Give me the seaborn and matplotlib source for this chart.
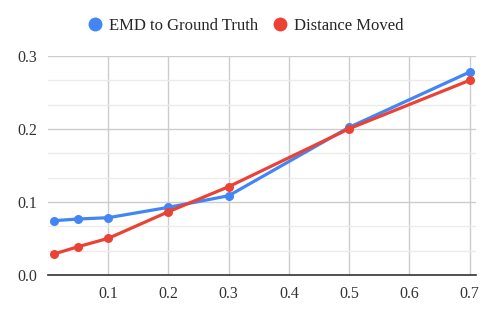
import pandas as pd
import matplotlib
matplotlib.use('Agg')

import matplotlib.pyplot as plt
from matplotlib.ticker import MultipleLocator
import seaborn as sns

# Data
x_vals = [0.01, 0.05, 0.1, 0.2, 0.3, 0.5, 0.7]
emd_to_truth = [0.0744, 0.0767, 0.0785, 0.0927, 0.1086, 0.2023, 0.278]
distance_moved = [0.0288, 0.0388, 0.0502, 0.0867, 0.121, 0.2004, 0.2667]
series_names = ["EMD to Ground Truth", "Distance Moved"]

df = pd.DataFrame({
    "x": x_vals * 2,
    "value": emd_to_truth + distance_moved,
    "series": [series_names[0]] * len(x_vals) + [series_names[1]] * len(x_vals),
})

sns.set_style("white")
plt.rcParams['font.family'] = ['Liberation Serif', 'DejaVu Serif']

fig = plt.figure(figsize=(4.92, 3.18), dpi=100)
ax = fig.add_axes([48 / 492, 43 / 318, 428 / 492, 219 / 318])

palette = {series_names[0]: "#4285F4", series_names[1]: "#EA4335"}
sns.lineplot(data=df, x="x", y="value", hue="series", palette=palette,
             marker="o", markersize=6.5, markeredgewidth=0, linewidth=2.3,
             ax=ax, legend=False, zorder=3)

ax.set_xlim(0.0, 0.7106)
ax.set_ylim(0, 0.3)
ax.set_xticks([0.1, 0.2, 0.3, 0.4, 0.5, 0.6, 0.7])
ax.set_yticks([0.0, 0.1, 0.2, 0.3])
ax.yaxis.set_minor_locator(MultipleLocator(0.1 / 3))
ax.set_xticklabels(["0.1", "0.2", "0.3", "0.4", "0.5", "0.6", "0.7"])
ax.set_yticklabels(["0.0", "0.1", "0.2", "0.3"])

ax.grid(which="major", color="#cccccc", linewidth=1)
ax.grid(which="minor", axis="y", color="#ebebeb", linewidth=1)
ax.set_axisbelow(True)
for side in ["top", "right", "left"]:
    ax.spines[side].set_visible(False)
ax.spines["bottom"].set_color("#333333")
ax.spines["bottom"].set_linewidth(1.2)
ax.tick_params(axis="both", length=0, labelsize=11.5, colors="#333333", pad=8)
ax.set_xlabel("")
ax.set_ylabel("")

# legend on top
handles = [plt.Line2D([], [], marker="o", linestyle="", color=palette[n],
                      markersize=9) for n in series_names]
fig.legend(handles, series_names, loc="center", bbox_to_anchor=(0.5, 1 - 26 / 318),
           ncol=2, frameon=False, fontsize=12, handlelength=0.8,
           handletextpad=0.45, columnspacing=0.9)

fig.savefig("out.png", dpi=100)
